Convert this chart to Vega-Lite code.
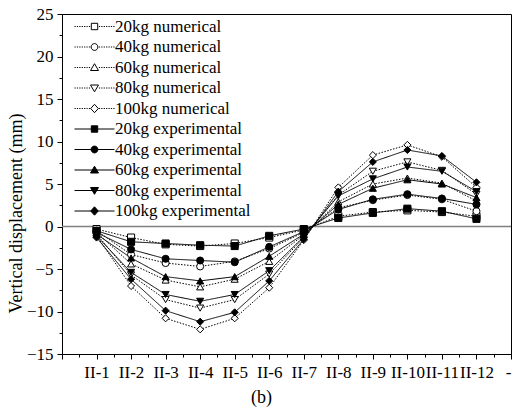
{
"$schema":"https://vega.github.io/schema/vega-lite/v6.json",
"width":449,"height":340,
"autosize":"none",
"padding":{"left":62,"top":14,"right":1,"bottom":57},
"background":"white",
"config":{"view":{"stroke":"black","strokeWidth":1},"font":"Liberation Serif"},
"data":{"values":[
{"s":"20kg numerical","t":"numerical","n":1,"v":-0.3},{"s":"20kg numerical","t":"numerical","n":2,"v":-1.3},{"s":"20kg numerical","t":"numerical","n":3,"v":-2.1},{"s":"20kg numerical","t":"numerical","n":4,"v":-2.3},{"s":"20kg numerical","t":"numerical","n":5,"v":-2.0},{"s":"20kg numerical","t":"numerical","n":6,"v":-1.3},{"s":"20kg numerical","t":"numerical","n":7,"v":-0.4},{"s":"20kg numerical","t":"numerical","n":8,"v":1.2},{"s":"20kg numerical","t":"numerical","n":9,"v":1.7},{"s":"20kg numerical","t":"numerical","n":10,"v":1.9},{"s":"20kg numerical","t":"numerical","n":11,"v":1.7},{"s":"20kg numerical","t":"numerical","n":12,"v":1.2},
{"s":"40kg numerical","t":"numerical","n":1,"v":-0.5},{"s":"40kg numerical","t":"numerical","n":2,"v":-3.3},{"s":"40kg numerical","t":"numerical","n":3,"v":-4.3},{"s":"40kg numerical","t":"numerical","n":4,"v":-4.7},{"s":"40kg numerical","t":"numerical","n":5,"v":-4.1},{"s":"40kg numerical","t":"numerical","n":6,"v":-2.6},{"s":"40kg numerical","t":"numerical","n":7,"v":-0.7},{"s":"40kg numerical","t":"numerical","n":8,"v":2.2},{"s":"40kg numerical","t":"numerical","n":9,"v":3.1},{"s":"40kg numerical","t":"numerical","n":10,"v":3.7},{"s":"40kg numerical","t":"numerical","n":11,"v":3.2},{"s":"40kg numerical","t":"numerical","n":12,"v":1.8},
{"s":"60kg numerical","t":"numerical","n":1,"v":-0.7},{"s":"60kg numerical","t":"numerical","n":2,"v":-4.4},{"s":"60kg numerical","t":"numerical","n":3,"v":-6.3},{"s":"60kg numerical","t":"numerical","n":4,"v":-7.1},{"s":"60kg numerical","t":"numerical","n":5,"v":-6.2},{"s":"60kg numerical","t":"numerical","n":6,"v":-4.1},{"s":"60kg numerical","t":"numerical","n":7,"v":-1.0},{"s":"60kg numerical","t":"numerical","n":8,"v":2.9},{"s":"60kg numerical","t":"numerical","n":9,"v":5.0},{"s":"60kg numerical","t":"numerical","n":10,"v":5.7},{"s":"60kg numerical","t":"numerical","n":11,"v":5.1},{"s":"60kg numerical","t":"numerical","n":12,"v":3.0},
{"s":"80kg numerical","t":"numerical","n":1,"v":-0.9},{"s":"80kg numerical","t":"numerical","n":2,"v":-5.7},{"s":"80kg numerical","t":"numerical","n":3,"v":-8.6},{"s":"80kg numerical","t":"numerical","n":4,"v":-9.6},{"s":"80kg numerical","t":"numerical","n":5,"v":-8.6},{"s":"80kg numerical","t":"numerical","n":6,"v":-5.6},{"s":"80kg numerical","t":"numerical","n":7,"v":-1.3},{"s":"80kg numerical","t":"numerical","n":8,"v":3.7},{"s":"80kg numerical","t":"numerical","n":9,"v":6.5},{"s":"80kg numerical","t":"numerical","n":10,"v":7.6},{"s":"80kg numerical","t":"numerical","n":11,"v":6.6},{"s":"80kg numerical","t":"numerical","n":12,"v":3.8},
{"s":"100kg numerical","t":"numerical","n":1,"v":-1.1},{"s":"100kg numerical","t":"numerical","n":2,"v":-7.0},{"s":"100kg numerical","t":"numerical","n":3,"v":-10.8},{"s":"100kg numerical","t":"numerical","n":4,"v":-12.1},{"s":"100kg numerical","t":"numerical","n":5,"v":-10.8},{"s":"100kg numerical","t":"numerical","n":6,"v":-7.2},{"s":"100kg numerical","t":"numerical","n":7,"v":-1.6},{"s":"100kg numerical","t":"numerical","n":8,"v":4.6},{"s":"100kg numerical","t":"numerical","n":9,"v":8.4},{"s":"100kg numerical","t":"numerical","n":10,"v":9.6},{"s":"100kg numerical","t":"numerical","n":11,"v":8.2},{"s":"100kg numerical","t":"numerical","n":12,"v":4.6},
{"s":"20kg experimental","t":"experimental","n":1,"v":-0.5},{"s":"20kg experimental","t":"experimental","n":2,"v":-1.8},{"s":"20kg experimental","t":"experimental","n":3,"v":-2.0},{"s":"20kg experimental","t":"experimental","n":4,"v":-2.2},{"s":"20kg experimental","t":"experimental","n":5,"v":-2.3},{"s":"20kg experimental","t":"experimental","n":6,"v":-1.1},{"s":"20kg experimental","t":"experimental","n":7,"v":-0.3},{"s":"20kg experimental","t":"experimental","n":8,"v":1.0},{"s":"20kg experimental","t":"experimental","n":9,"v":1.6},{"s":"20kg experimental","t":"experimental","n":10,"v":2.1},{"s":"20kg experimental","t":"experimental","n":11,"v":1.8},{"s":"20kg experimental","t":"experimental","n":12,"v":0.9},
{"s":"40kg experimental","t":"experimental","n":1,"v":-0.7},{"s":"40kg experimental","t":"experimental","n":2,"v":-2.7},{"s":"40kg experimental","t":"experimental","n":3,"v":-3.8},{"s":"40kg experimental","t":"experimental","n":4,"v":-4.0},{"s":"40kg experimental","t":"experimental","n":5,"v":-4.2},{"s":"40kg experimental","t":"experimental","n":6,"v":-2.4},{"s":"40kg experimental","t":"experimental","n":7,"v":-0.6},{"s":"40kg experimental","t":"experimental","n":8,"v":2.0},{"s":"40kg experimental","t":"experimental","n":9,"v":3.2},{"s":"40kg experimental","t":"experimental","n":10,"v":3.8},{"s":"40kg experimental","t":"experimental","n":11,"v":3.3},{"s":"40kg experimental","t":"experimental","n":12,"v":2.6},
{"s":"60kg experimental","t":"experimental","n":1,"v":-0.9},{"s":"60kg experimental","t":"experimental","n":2,"v":-3.7},{"s":"60kg experimental","t":"experimental","n":3,"v":-5.9},{"s":"60kg experimental","t":"experimental","n":4,"v":-6.4},{"s":"60kg experimental","t":"experimental","n":5,"v":-5.9},{"s":"60kg experimental","t":"experimental","n":6,"v":-3.5},{"s":"60kg experimental","t":"experimental","n":7,"v":-0.9},{"s":"60kg experimental","t":"experimental","n":8,"v":2.6},{"s":"60kg experimental","t":"experimental","n":9,"v":4.5},{"s":"60kg experimental","t":"experimental","n":10,"v":5.5},{"s":"60kg experimental","t":"experimental","n":11,"v":5.0},{"s":"60kg experimental","t":"experimental","n":12,"v":3.4},
{"s":"80kg experimental","t":"experimental","n":1,"v":-1.1},{"s":"80kg experimental","t":"experimental","n":2,"v":-5.4},{"s":"80kg experimental","t":"experimental","n":3,"v":-8.0},{"s":"80kg experimental","t":"experimental","n":4,"v":-8.8},{"s":"80kg experimental","t":"experimental","n":5,"v":-8.0},{"s":"80kg experimental","t":"experimental","n":6,"v":-5.2},{"s":"80kg experimental","t":"experimental","n":7,"v":-1.2},{"s":"80kg experimental","t":"experimental","n":8,"v":3.6},{"s":"80kg experimental","t":"experimental","n":9,"v":5.6},{"s":"80kg experimental","t":"experimental","n":10,"v":7.0},{"s":"80kg experimental","t":"experimental","n":11,"v":6.5},{"s":"80kg experimental","t":"experimental","n":12,"v":4.1},
{"s":"100kg experimental","t":"experimental","n":1,"v":-1.3},{"s":"100kg experimental","t":"experimental","n":2,"v":-6.2},{"s":"100kg experimental","t":"experimental","n":3,"v":-9.9},{"s":"100kg experimental","t":"experimental","n":4,"v":-11.2},{"s":"100kg experimental","t":"experimental","n":5,"v":-10.1},{"s":"100kg experimental","t":"experimental","n":6,"v":-6.4},{"s":"100kg experimental","t":"experimental","n":7,"v":-1.5},{"s":"100kg experimental","t":"experimental","n":8,"v":4.1},{"s":"100kg experimental","t":"experimental","n":9,"v":7.6},{"s":"100kg experimental","t":"experimental","n":10,"v":9.0},{"s":"100kg experimental","t":"experimental","n":11,"v":8.3},{"s":"100kg experimental","t":"experimental","n":12,"v":5.2}
]},
"encoding":{
"x":{"field":"n","type":"quantitative","scale":{"domain":[0,13],"nice":false,"zero":false},
 "axis":{"values":[0,0.5,1,1.5,2,2.5,3,3.5,4,4.5,5,5.5,6,6.5,7,7.5,8,8.5,9,9.5,10,10.5,11,11.5,12,12.5,13],
  "labelExpr":"datum.value % 1 != 0 || datum.value == 0 ? '' : (datum.value == 13 ? '--' : 'II-' + datum.value)",
  "tickSize":{"condition":{"test":"datum.value % 1 != 0","value":3},"value":5},
  "tickColor":"black","domainColor":"black","grid":false,
  "labelFont":"Liberation Serif","labelFontSize":17,"labelColor":"black","labelOverlap":false,"labelFlush":false,"labelPadding":5,
  "title":"(b)","titleFont":"Liberation Serif","titleFontSize":18,"titleFontWeight":"normal","titleColor":"black","titleX":199,"titleY":43,"titleBaseline":"middle"}},
"y":{"field":"v","type":"quantitative","scale":{"domain":[-15,25],"nice":false,"zero":false},
 "axis":{"values":[-15,-12.5,-10,-7.5,-5,-2.5,0,2.5,5,7.5,10,12.5,15,17.5,20,22.5,25],
  "labelExpr":"datum.value % 5 != 0 ? '' : datum.label",
  "tickSize":{"condition":{"test":"datum.value % 5 != 0","value":3},"value":5},
  "tickColor":"black","domainColor":"black","grid":false,
  "labelFont":"Liberation Serif","labelFontSize":17,"labelColor":"black","labelPadding":4,
  "title":"Vertical displacement (mm)","titleFont":"Liberation Serif","titleFontSize":18,"titleFontWeight":"normal","titleColor":"black","titleX":-46,"titleY":199,"titleAngle":-90,"titleAlign":"center","titleBaseline":"middle"}}
},
"layer":[
{"data":{"values":[{"z":0}]},"mark":{"type":"rule","color":"#808080","strokeWidth":1.5},"encoding":{"y":{"field":"z","type":"quantitative"},"x":null}},
{"mark":{"type":"line","color":"black","strokeWidth":1},
 "encoding":{"detail":{"field":"s"},
  "strokeDash":{"field":"t","type":"nominal","scale":{"domain":["numerical","experimental"],"range":[[1.5,1.5],[1,0]]},"legend":null}}},
{"mark":{"type":"point","stroke":"black","strokeWidth":1,"size":50,"opacity":1},
 "encoding":{
  "shape":{"field":"s","type":"nominal","sort":null,"scale":{"domain":["20kg numerical","40kg numerical","60kg numerical","80kg numerical","100kg numerical","20kg experimental","40kg experimental","60kg experimental","80kg experimental","100kg experimental"],"range":["square","circle","triangle-up","triangle-down","diamond","square","circle","triangle-up","triangle-down","diamond"]},"legend":null},
  "fill":{"field":"s","type":"nominal","scale":{"domain":["20kg numerical","40kg numerical","60kg numerical","80kg numerical","100kg numerical","20kg experimental","40kg experimental","60kg experimental","80kg experimental","100kg experimental"],"range":["white","white","white","white","white","black","black","black","black","black"]},"legend":null}}},
{"data":{"values":[]},"mark":{"type":"point","stroke":"black","strokeWidth":1,"size":64,"opacity":1},
 "encoding":{"x":null,"y":null,
  "shape":{"field":"s","type":"nominal","scale":{"domain":["20kg numerical","40kg numerical","60kg numerical","80kg numerical","100kg numerical","20kg experimental","40kg experimental","60kg experimental","80kg experimental","100kg experimental"],
   "range":[
   "M-5,0h0.3m0.3,0h0.3m0.3,0h0.3m0.3,0h0.3m0.3,0h0.3m0.3,0h0.3m0.3,0h0.3M1.1,0h0.3m0.3,0h0.3m0.3,0h0.3m0.3,0h0.3m0.3,0h0.3m0.3,0h0.3m0.3,0h0.3M-0.8,-0.8H0.8V0.8H-0.8Z",
   "M-5,0h0.3m0.3,0h0.3m0.3,0h0.3m0.3,0h0.3m0.3,0h0.3m0.3,0h0.3m0.3,0h0.3M1.1,0h0.3m0.3,0h0.3m0.3,0h0.3m0.3,0h0.3m0.3,0h0.3m0.3,0h0.3m0.3,0h0.3M0.85,0A0.85,0.85,0,1,1,-0.85,0A0.85,0.85,0,1,1,0.85,0Z",
   "M-5,0h0.3m0.3,0h0.3m0.3,0h0.3m0.3,0h0.3m0.3,0h0.3m0.3,0h0.3m0.3,0h0.3M1.1,0h0.3m0.3,0h0.3m0.3,0h0.3m0.3,0h0.3m0.3,0h0.3m0.3,0h0.3m0.3,0h0.3M0,-0.95L1,0.75H-1Z",
   "M-5,0h0.3m0.3,0h0.3m0.3,0h0.3m0.3,0h0.3m0.3,0h0.3m0.3,0h0.3m0.3,0h0.3M1.1,0h0.3m0.3,0h0.3m0.3,0h0.3m0.3,0h0.3m0.3,0h0.3m0.3,0h0.3m0.3,0h0.3M0,0.95L1,-0.75H-1Z",
   "M-5,0h0.3m0.3,0h0.3m0.3,0h0.3m0.3,0h0.3m0.3,0h0.3m0.3,0h0.3m0.3,0h0.3M1.1,0h0.3m0.3,0h0.3m0.3,0h0.3m0.3,0h0.3m0.3,0h0.3m0.3,0h0.3m0.3,0h0.3M0,-1.05L0.95,0L0,1.05L-0.95,0Z",
   "M-5,0H5M-0.8,-0.8H0.8V0.8H-0.8Z",
   "M-5,0H5M0.85,0A0.85,0.85,0,1,1,-0.85,0A0.85,0.85,0,1,1,0.85,0Z",
   "M-5,0H5M0,-0.95L1,0.75H-1Z",
   "M-5,0H5M0,0.95L1,-0.75H-1Z",
   "M-5,0H5M0,-1.05L0.95,0L0,1.05L-0.95,0Z"]},
   "legend":{"orient":"none","legendX":24,"legendY":4,"title":null,"padding":0,"symbolSize":64,"symbolStrokeWidth":1,"labelFont":"Liberation Serif","labelFontSize":17,"labelColor":"black","rowPadding":2.5,"labelOffset":12,"labelLimit":300,
    "encode":{"symbols":{"stroke":{"value":"black"},"strokeWidth":{"value":1},"opacity":{"value":1}}}}},
  "fill":{"field":"s","type":"nominal","scale":{"domain":["20kg numerical","40kg numerical","60kg numerical","80kg numerical","100kg numerical","20kg experimental","40kg experimental","60kg experimental","80kg experimental","100kg experimental"],"range":["white","white","white","white","white","black","black","black","black","black"]},
   "legend":{"orient":"none","legendX":24,"legendY":4,"title":null,"padding":0,"symbolSize":64,"symbolStrokeWidth":1,"labelFont":"Liberation Serif","labelFontSize":17,"labelColor":"black","rowPadding":2.5,"labelOffset":12,"labelLimit":300,
    "encode":{"symbols":{"stroke":{"value":"black"},"strokeWidth":{"value":1},"opacity":{"value":1}}}}}}}
],
"resolve":{"scale":{"shape":"independent","fill":"independent"}}
}
